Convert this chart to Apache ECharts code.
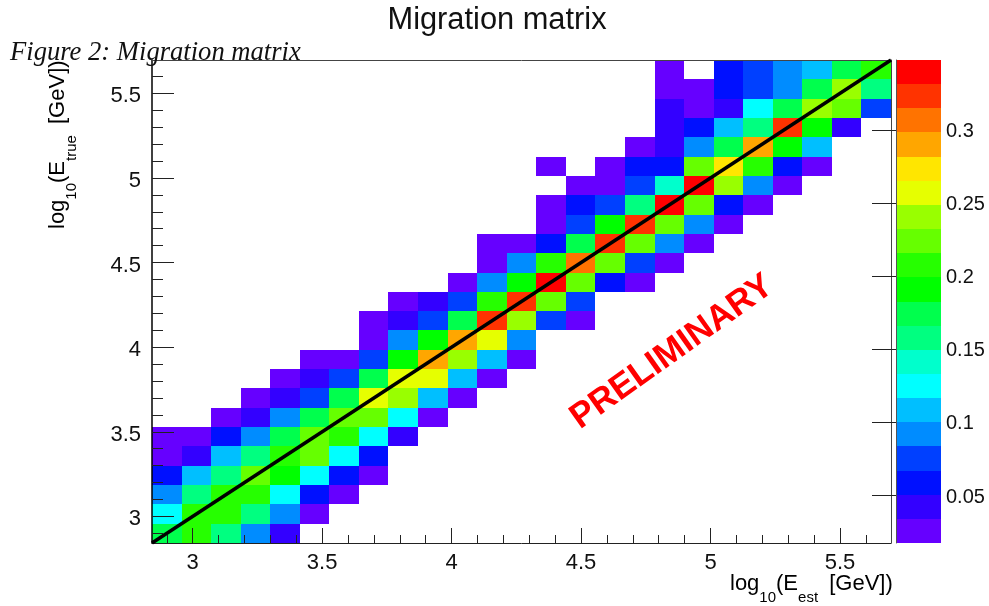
<!DOCTYPE html>
<html>
<head>
<meta charset="utf-8">
<style>html,body{margin:0;padding:0;background:#fff}#c{width:989px;height:606px}</style>
<script src="https://cdn.jsdelivr.net/npm/echarts@6/dist/echarts.min.js"></script>
</head>
<body>
<div id="c"></div>
<script>
const axisMin = 2.843, axisMax = 5.697, binCount = 25;
const majorTicksX = [3, 3.5, 4, 4.5, 5, 5.5];
const majorTicksY = [3, 3.5, 4, 4.5, 5, 5.5];
const minorTicks = [2.9,3.1,3.2,3.3,3.4,3.6,3.7,3.8,3.9,4.1,4.2,4.3,4.4,4.6,4.7,4.8,4.9,5.1,5.2,5.3,5.4,5.6];
const colorTicks = [0.05, 0.1, 0.15, 0.2, 0.25, 0.3];
const levels = [0.0175,0.034,0.0505,0.0671,0.0836,0.1001,0.1166,0.1332,0.1497,0.1662,0.1827,0.1993,0.2158,0.2323,0.2488,0.2654,0.2819,0.2984,0.3149,0.3315,0.348];
const palette = ['#6600ff','#3300ff','#0010ff','#0040ff','#008cff','#00bfff','#00ffff','#00ffcc','#00ff80','#00ff4d','#00ff00','#26ff00','#66ff00','#99ff00','#e6ff00','#ffe600','#ffa600','#ff7300','#ff3300','#ff0000'];
const diagonal = [axisMin, axisMax];

// first filled column of each row, rows numbered from the bottom
const rowStart = [0,0,0,0,0,0,2,3,4,5,7,7,8,10,11,11,13,13,14,13,16,17,17,17,17];
const row00 = [.174,.207,.158,.092,.042];
const row01 = [.125,.207,.207,.158,.092,.026];
const row02 = [.092,.158,.207,.207,.125,.059,.026];
const row03 = [.059,.108,.158,.224,.191,.125,.059,.026];
const row04 = [.026,.042,.108,.158,.207,.224,.125,.059];
const row05 = [.026,.026,.059,.092,.174,.224,.207,.125,.042];
const row06 = [.026,.042,.092,.174,.224,.224,.125,.026];
const row07 = [.026,.042,.075,.174,.257,.240,.108,.026];
const row08 = [.026,.042,.075,.174,.257,.257,.108,.026];
const row09 = [.026,.026,.075,.191,.290,.240,.108,.026];
const row10 = [.026,.092,.191,.290,.257,.092];
const row11 = [.026,.042,.075,.174,.323,.240,.075,.026];
const row12 = [.026,.042,.075,.207,.323,.224,.075];
const row13 = [.026,.092,.191,.339,.224,.059,.026];
const row14 = [.026,.092,.207,.306,.224,.075,.026];
const row15 = [.026,.026,.059,.174,.323,.224,.092,.026];
const row16 = [.026,.075,.191,.323,.224,.092,.026];
const row17 = [.026,.059,.075,.158,.339,.224,.059,.026];
const row18 = [.026,.026,.075,.141,.339,.240,.092,.026];
const row19 = [.026,null,.026,.059,.059,.224,.273,.207,.059,.026];
const row20 = [.026,.042,.092,.174,.290,.191,.108];
const row21 = [.042,.059,.108,.158,.323,.191,.042];
const row22 = [.042,.026,.042,.125,.174,.240,.224,.075];
const row23 = [.026,.026,.059,.075,.092,.174,.240,.158];
const row24 = [.026,null,.059,.075,.092,.108,.174,.207];
const rows = [row00,row01,row02,row03,row04,row05,row06,row07,row08,row09,row10,row11,row12,row13,row14,row15,row16,row17,row18,row19,row20,row21,row22,row23,row24];

const cells = [];
rows.forEach((r, j) => r.forEach((v, k) => { if (v !== null) cells.push([rowStart[j] + k, j, v]); }));

function bandColor(v) {
  for (let i = 0; i < palette.length; i++) if (v < levels[i + 1]) return palette[i];
  return palette[palette.length - 1];
}
const binW = (axisMax - axisMin) / binCount;
function rectFrom(api, x0, x1, y0, y1, fill) {
  const a = api.coord([x0, y0]), b = api.coord([x1, y1]);
  const l = Math.round(a[0]), r = Math.round(b[0]), t = Math.round(b[1]), d = Math.round(a[1]);
  return { type: 'rect', shape: { x: l, y: t, width: r - l, height: d - t }, style: { fill: fill } };
}
const FONT = 'Liberation Sans';
const labelStyle = { fontFamily: FONT, fontSize: 22, color: '#111' };
const lineBase = { lineStyle: { color: '#222', width: 1 } };
const subRich = {
  n: { fontFamily: FONT, fontSize: 22, color: '#111', lineHeight: 30 },
  s: { fontFamily: FONT, fontSize: 15, color: '#111', lineHeight: 30, padding: [28, 0, 0, 0] },
  t: { fontFamily: FONT, fontSize: 15, color: '#111', lineHeight: 30, padding: [28, 5, 0, 0] }
};

const chart = echarts.init(document.getElementById('c'), null, { renderer: 'canvas' });
chart.setOption({
  animation: false,
  backgroundColor: '#fff',
  title: [
    { text: 'Migration matrix', left: 492, top: 0, textAlign: 'center',
      textStyle: { fontFamily: FONT, fontSize: 30.8, fontWeight: 'normal', color: '#111' } },
    { text: 'Figure 2: Migration matrix', left: 5, top: 34, z: 20,
      textStyle: { fontFamily: 'Liberation Serif', fontStyle: 'italic', fontSize: 26.6, fontWeight: 'normal', color: '#111' } }
  ],
  grid: [
    { left: 152, top: 60, width: 739, height: 483 },
    { left: 896, top: 60, width: 45, height: 483 }
  ],
  xAxis: [
    { type: 'value', gridIndex: 0, position: 'bottom', min: axisMin, max: axisMax, z: 5, splitLine: { show: false },
      axisLine: lineBase,
      axisTick: { inside: true, length: 15, lineStyle: { color: '#222' }, customValues: majorTicksX },
      axisLabel: { ...labelStyle, margin: 9, customValues: majorTicksX } },
    { type: 'value', gridIndex: 0, position: 'bottom', min: axisMin, max: axisMax, z: 5, splitLine: { show: false },
      axisLine: { show: false }, axisLabel: { show: false },
      axisTick: { inside: true, length: 8, lineStyle: { color: '#222' }, customValues: minorTicks } },
    { type: 'value', gridIndex: 0, position: 'top', min: axisMin, max: axisMax, z: 5, splitLine: { show: false },
      axisLine: { lineStyle: { color: '#444', width: 1 } }, axisLabel: { show: false }, axisTick: { show: false } },
    { type: 'value', gridIndex: 1, min: 0, max: 1, show: false }
  ],
  yAxis: [
    { type: 'value', gridIndex: 0, position: 'left', min: axisMin, max: axisMax, z: 5, splitLine: { show: false },
      axisLine: { lineStyle: { color: '#000', width: 1.5 } },
      axisTick: { inside: true, length: 22, lineStyle: { color: '#222' }, customValues: majorTicksY },
      axisLabel: { margin: 11, customValues: majorTicksY, formatter: '{a|{value}}',
        rich: { a: { ...labelStyle, padding: [6, 0, 0, 0] } } } },
    { type: 'value', gridIndex: 0, position: 'left', min: axisMin, max: axisMax, z: 5, splitLine: { show: false },
      axisLine: { show: false }, axisLabel: { show: false },
      axisTick: { inside: true, length: 11, lineStyle: { color: '#222' }, customValues: minorTicks } },
    { type: 'value', gridIndex: 0, position: 'right', min: axisMin, max: axisMax, z: 5, splitLine: { show: false },
      axisLine: { lineStyle: { color: '#444', width: 1 } }, axisLabel: { show: false }, axisTick: { show: false } },
    { type: 'value', gridIndex: 1, position: 'right', min: levels[0], max: levels[levels.length - 1], z: 5,
      splitLine: { show: false },
      axisLine: { lineStyle: { color: '#555', width: 1 } },
      axisTick: { inside: true, length: 24, lineStyle: { color: '#222' }, customValues: colorTicks },
      axisLabel: { margin: 5, customValues: colorTicks, formatter: '{a|{value}}',
        rich: { a: { fontFamily: FONT, fontSize: 20, color: '#111', padding: [3, 0, 0, 0] } } } }
  ],
  series: [
    { type: 'custom', xAxisIndex: 0, yAxisIndex: 0, z: 2, clip: false, silent: true,
      data: cells,
      renderItem: (p, api) => {
        const i = api.value(0), j = api.value(1);
        return rectFrom(api, axisMin + i * binW, axisMin + (i + 1) * binW, axisMin + j * binW, axisMin + (j + 1) * binW, bandColor(api.value(2)));
      } },
    { type: 'line', xAxisIndex: 0, yAxisIndex: 0, z: 8, silent: true, showSymbol: false, symbol: 'none',
      lineStyle: { color: '#000', width: 3.5 },
      data: [[diagonal[0], diagonal[0]], [diagonal[1], diagonal[1]]] },
    { type: 'custom', xAxisIndex: 3, yAxisIndex: 3, z: 2, clip: false, silent: true,
      data: palette.map((c, i) => [0, 1, levels[i], levels[i + 1], i]),
      renderItem: (p, api) => rectFrom(api, api.value(0), api.value(1), api.value(2), api.value(3), palette[api.value(4)]) }
  ],
  graphic: [
    { type: 'text', z: 20, left: 730, top: 562,
      style: { text: '{n|log}{s|10}{n|(E}{t|est}{n| [GeV])}', rich: subRich } },
    { type: 'text', z: 20, x: 43, y: 229, rotation: Math.PI / 2,
      style: { text: '{n|log}{s|10}{n|(E}{t|true}{n| [GeV])}', rich: subRich } },
    { type: 'text', z: 20, x: 672, y: 352, rotation: 35.5 * Math.PI / 180,
      style: { text: 'PRELIMINARY', align: 'center', verticalAlign: 'middle', fontFamily: FONT, fontWeight: 'bold', fontSize: 35, fill: '#ff0000' } }
  ]
});
</script>
</body>
</html>
